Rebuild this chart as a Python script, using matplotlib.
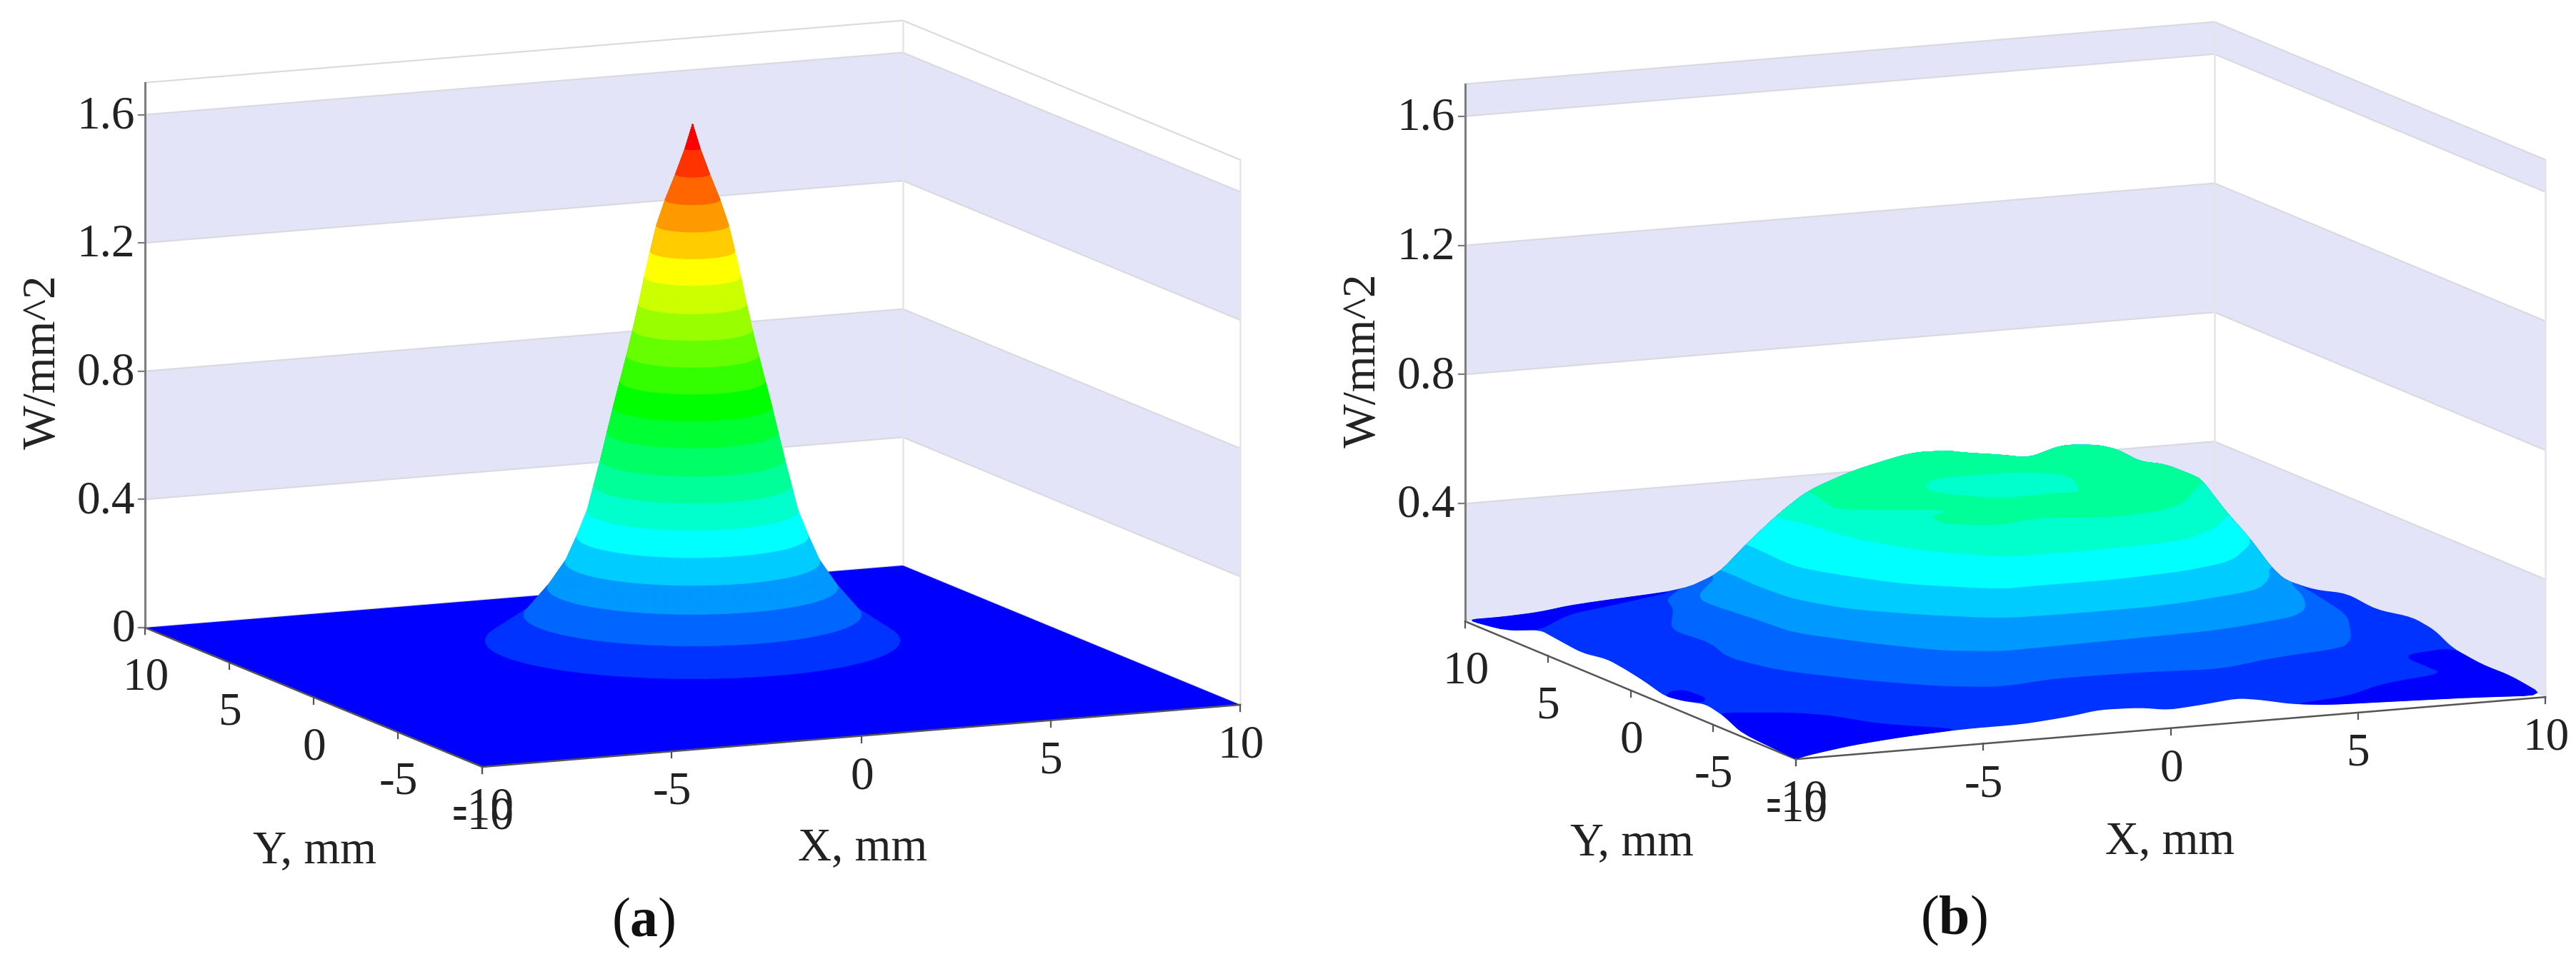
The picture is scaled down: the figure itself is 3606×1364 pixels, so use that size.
import numpy as np
import matplotlib
matplotlib.use("Agg")
import matplotlib.pyplot as plt
from matplotlib.collections import PolyCollection
from matplotlib.patches import Polygon

plt.rcParams['font.family'] = ['Liberation Serif', 'DejaVu Serif']
plt.rcParams['mathtext.fontset'] = 'custom'
plt.rcParams['mathtext.rm'] = 'Liberation Serif'
plt.rcParams['mathtext.bf'] = 'Liberation Serif:bold'

# axis ticks
x_ticks = [-10, -5, 0, 5, 10]
y_ticks = [-10, -5, 0, 5, 10]
z_ticks_a = [0, 0.4, 0.8, 1.2, 1.6]
z_labels_a = ['0', '0.4', '0.8', '1.2', '1.6']
z_ticks_b = [0.4, 0.8, 1.2, 1.6]
z_labels_b = ['0.4', '0.8', '1.2', '1.6']
z_top = 1.7
z_floor_a = 0.0
z_floor_b = 0.035

# shaded wall stripes
bands_a = [(0.4, 0.8), (1.2, 1.6)]
bands_b = [(0.035, 0.4), (0.8, 1.2), (1.6, 1.7)]

band_colors = ['#0033FF', '#0066FF', '#0099FF', '#00CCFF', '#00FFFF', '#00FFCC', '#00FF99',
               '#00FF66', '#00FF33', '#00FF00', '#33FF00', '#66FF00', '#99FF00', '#CCFF00',
               '#FFFF00', '#FFCC00', '#FF9900', '#FF6600', '#FF3300', '#FF0000']

# panel a: contour levels and their radius, mm
levels_a = [0.08, 0.16, 0.245, 0.325, 0.405, 0.485, 0.565, 0.645, 0.73, 0.81, 0.89, 0.97,
            1.05, 1.13, 1.215, 1.295, 1.375, 1.455, 1.535, 1.615, 1.69]
radius_a = [5.0, 4.07, 3.5, 3.07, 2.79, 2.54, 2.38, 2.22, 2.06, 1.91, 1.75, 1.59,
            1.44, 1.30, 1.16, 1.02, 0.87, 0.66, 0.41, 0.18, 0.0]

# panel b: surface edge and skyline
edge_x = [-10, -10, -10, -10, -10, -10, -10, -10, -10, -10, -10, -10, -10, -10, -10,
          -9.6, -8.51, -7.16, -5.5, -3.94, -2.68, -1.9, -0.83, -0.05, 0.81, 1.78, 2.37, 3.25, 4.22, 6.17, 8.02, 10,
          10, 10, 10, 10, 10, 10, 10, 10, 10,
          8.03, 7.36, 6.13, 5.97, 4.97, 4.93, 4.53, 3.97, 3.76, 2.98, 1.89, 1.45, 0.75, 0.45, -0.47, -2.37, -3.4, -3.84, -4.5, -4.63,
          -4.17, -7.08, -8.06, -9.03]
edge_y = [10, 7.58, 5.46, 4.6, 2.96, 1.4, 0.32, -0.8, -2.1, -3.22, -4.56, -5.64, -6.76, -9.83, -10,
          -10, -10, -10, -10, -10, -10, -10, -10, -10, -10, -10, -10, -10, -10, -10, -10, -10,
          -7.93, -6.16, -4.38, -3.3, -1.96, 0.24, 2.0, 3.95, 5.72,
          2.13, 1.9, 0.47, 1.66, 0.04, 1.5, 2.1, 2.25, 2.97, 3.32, 2.87, 3.5, 4.12, 4.56, 4.67, 3.86, 4.23, 4.95, 5.45, 6.85,
          10, 10, 10, 10]
edge_z = [0.04, 0.058, 0.105, 0.099, 0.088, 0.101, 0.093, 0.081, 0.061, 0.07, 0.089, 0.075, 0.045, 0.035, 0.035,
          0.045, 0.063, 0.076, 0.085, 0.085, 0.097, 0.11, 0.106, 0.092, 0.099, 0.11, 0.1, 0.078, 0.066, 0.059, 0.052, 0.04,
          0.057, 0.055, 0.068, 0.1, 0.111, 0.088, 0.1, 0.07, 0.062,
          0.2, 0.3, 0.42, 0.5, 0.56, 0.56, 0.56, 0.6, 0.6, 0.6, 0.58, 0.58, 0.58, 0.58, 0.58, 0.56, 0.5, 0.42, 0.32, 0.2,
          0.078, 0.06, 0.045, 0.04]

# panel b: front part of each contour
level_016_x = [-5.4, -6.49, -6.86, -8.04, -7.84, -8.24, -7.78, -6.37, -5.06, -3.74, -2.05, 0.33, 2.11, 3.92, 6.0, 6.71, 7.84, 8.22, 8.42]
level_016_y = [7.17, 5.8, 4.51, 2.04, 0.08, -1.91, -3.98, -6.07, -7.49, -8.19, -7.71, -7.85, -8.23, -7.39, -6.88, -5.75, -2.94, -0.11, 1.66]
level_024_x = [-5.41, -6.88, -7.21, -6.95, -6.83, -5.73, -4.53, -3.21, -2.19, 0.33, 2.83, 5.13, 5.83, 6.44, 6.99]
level_024_y = [5.08, 2.95, 1.95, -0.75, -2.68, -4.61, -6.3, -7.0, -6.94, -6.78, -6.61, -5.78, -4.96, -3.48, -1.23]
level_032_x = [-6.46, -6.53, -6.41, -5.72, -4.4, -2.83, -0.92, 1.52, 4.36, 5.25, 5.93]
level_032_y = [2.34, 0.19, -1.73, -3.49, -4.91, -6.15, -6.28, -6.24, -5.34, -4.08, -2.53]
level_040_x = [-5.9, -6.04, -5.61, -4.55, -2.65, -1.63, 0.3, 2.39, 3.96, 5.22, 5.64]
level_040_y = [2.27, -0.89, -2.11, -4.14, -5.73, -5.67, -5.71, -5.4, -4.67, -2.95, -2.0]
level_048_x = [-5.21, -4.82, -4.66, -3.73, -2.31, -1.37, 0.6, 2.64, 4.06, 4.98]
level_048_y = [2.04, 0.73, -1.11, -3.39, -4.97, -5.08, -5.03, -4.81, -3.59, -2.14]
level_056_x = [-4.43, -4.67, -4.81, -2.53, -2.44, -3.08, -3.21, -2.01, -0.76, 0.86, 2.49, 3.29, 4.79]
level_056_y = [1.89, 0.23, -0.74, -1.76, -2.0, -2.45, -3.53, -4.28, -3.7, -4.43, -4.03, -3.35, -1.02]

contour_z_b = [0.16, 0.24, 0.32, 0.40, 0.48, 0.56]
contour_x_b = [level_016_x, level_024_x, level_032_x, level_040_x, level_048_x, level_056_x]
contour_y_b = [level_016_y, level_024_y, level_032_y, level_040_y, level_048_y, level_056_y]
contour_col_b = ['#0066FF', '#0099FF', '#00CCFF', '#00FFFF', '#00FFCC', '#00FF99']

# dip on top of the plateau
dip_x = [-0.7, -1.33, -1.31, -0.21, 1.12, 1.93, 2.57, 1.79, 0.22]
dip_y = [2.8, 1.94, 1.01, -0.22, -0.09, -0.25, 1.85, 2.72, 2.91]
dip_z = 0.54

# low patches, below the first contour
low1_x = [-10, -10, -10, -8.13, -6.66, -4.17, -7.08, -8.06, -9.03]
low1_y = [10, 7.58, 5.46, 8.02, 8.7, 10, 10, 10, 10]
low1_z = [0.04, 0.058, 0.105, 0.08, 0.08, 0.078, 0.06, 0.045, 0.04]
low2_x = [-9.77, -9.38, -9.31, -9.65, -10, -10]
low2_y = [-1.88, -1.84, -3.01, -3.59, -3.22, -2.1]
low2_z = [0.07, 0.07, 0.07, 0.07, 0.07, 0.061]
low3_x = [-9.95, -8.33, -7.68, -7.0, -5.5, -7.16, -8.51, -9.6, -10, -10, -10, -10]
low3_y = [-5.36, -6.09, -6.79, -8.34, -10, -10, -10, -10, -10, -9.83, -6.76, -5.64]
low3_z = [0.08, 0.08, 0.08, 0.08, 0.085, 0.076, 0.063, 0.045, 0.035, 0.035, 0.045, 0.075]
low4_x = [3.25, 4.87, 6.37, 8.2, 8.22, 8.21, 8.5, 10, 10, 10, 10, 8.02, 6.17, 4.22]
low4_y = [-10, -9.65, -8.47, -7.85, -6.72, -5.77, -5.18, -4.38, -6.16, -7.93, -10, -10, -10, -10]
low4_z = [0.078, 0.08, 0.08, 0.08, 0.08, 0.08, 0.08, 0.068, 0.055, 0.057, 0.04, 0.052, 0.059, 0.066]

# view of each panel: figure pixel position of (-10, -10, 0) and pixels per unit
view_a = dict(o=(675, 1074), xv=(53.05, -4.35), yv=(-23.6, -9.75), zs=449)
view_b = dict(o=(2514, 1079), xv=(52.45, -4.35), yv=(-23.15, -9.65), zs=452)

WALL = '#E3E4F7'
LINE = '#D9D9E0'
AXIS = '#7D7D7D'
FS = 47


def project(view, x, y, z):
    x = np.asarray(x, dtype=float) + 10
    y = np.asarray(y, dtype=float) + 10
    z = np.asarray(z, dtype=float)
    sx = view['o'][0] + x * view['xv'][0] + y * view['yv'][0]
    sy = view['o'][1] + x * view['xv'][1] + y * view['yv'][1] - z * view['zs']
    return np.column_stack([sx, sy]) if sx.ndim else np.array([sx, sy])


def soften(pts, closed=True, cut=0.18, rounds=2):
    # corner cutting, only rounds off the drawn outline
    pts = np.asarray(pts)
    for _ in range(rounds):
        b = np.roll(pts, -1, axis=0)
        pts = np.column_stack([(1 - cut) * pts + cut * b, cut * pts + (1 - cut) * b]).reshape(-1, 2)
    return pts


def wall_poly(view, z0, z1):
    xs = [-10, 10, 10, 10, 10, -10]
    ys = [10, 10, -10, -10, 10, 10]
    zs = [z0, z0, z0, z1, z1, z1]
    return project(view, xs, ys, zs)


def draw_frame(ax, view, bands, zfloor, zticks, zlabels, ylab_xy, xlab_xy, zlab_xy, letter, letter_xy):
    # walls
    for z0, z1 in bands:
        ax.add_patch(Polygon(wall_poly(view, z0, z1), fc=WALL, ec='none', zorder=1))
    for z in list(zticks) + [z_top]:
        p = project(view, [-10, 10, 10], [10, 10, -10], [z, z, z])
        ax.plot(p[:, 0], p[:, 1], color=LINE, lw=1.5, zorder=1.5)
    p = project(view, [10, 10], [10, 10], [zfloor, z_top])
    ax.plot(p[:, 0], p[:, 1], color='#E4E4EA', lw=1.8, zorder=1.5)
    p = project(view, [10, 10], [-10, -10], [zfloor, z_top])
    ax.plot(p[:, 0], p[:, 1], color='#E4E4EA', lw=1.8, zorder=1.5)

    # axes
    p = project(view, [-10, -10], [10, 10], [zfloor, z_top])
    ax.plot(p[:, 0], p[:, 1], color=AXIS, lw=2.2, zorder=8)
    p = project(view, [-10, -10, 10], [10, -10, -10], [zfloor, zfloor, zfloor])
    ax.plot(p[:, 0], p[:, 1], color='#555555', lw=1.8, zorder=3)

    for z, lab in zip(zticks, zlabels):
        p = project(view, -10, 10, z)
        ax.plot([p[0] - 9, p[0]], [p[1], p[1]], color=AXIS, lw=1.6, zorder=8)
        ax.text(p[0] - 14, p[1] + 3, lab, ha='right', va='center', fontsize=FS, color='#222222')
    for t in x_ticks:
        p = project(view, t, -10, zfloor)
        ax.plot([p[0], p[0]], [p[1], p[1] + 9], color='#555555', lw=1.6, zorder=8)
        ax.text(p[0] + 1, p[1] + 58, str(t), ha='center', va='center', fontsize=FS, color='#222222')
    for t in y_ticks:
        p = project(view, -10, t, zfloor)
        ax.plot([p[0], p[0]], [p[1], p[1] + 9], color='#555555', lw=1.6, zorder=8)
        ax.text(p[0] + 1, p[1] + 71, str(t), ha='center', va='center', fontsize=FS, color='#222222')

    ax.text(*ylab_xy, 'Y, mm', ha='center', va='center', fontsize=FS, color='#222222')
    ax.text(*xlab_xy, 'X, mm', ha='center', va='center', fontsize=FS, color='#222222')
    ax.text(*zlab_xy, 'W/mm^2', ha='center', va='center', rotation=90, fontsize=FS, color='#222222')
    ax.text(*letter_xy, '($\\mathbf{%s}$)' % letter, ha='center', va='center', fontsize=56, color='#111111')


fig = plt.figure(figsize=(36.06, 13.64), dpi=100)
ax = fig.add_axes([0, 0, 1, 1])
ax.set_xlim(0, 3606)
ax.set_ylim(1364, 0)
ax.axis('off')

# panel a
draw_frame(ax, view_a, bands_a, z_floor_a, z_ticks_a, z_labels_a,
           (440, 1192), (1208, 1188), (61, 507), 'a', (901, 1292))
ax.add_patch(Polygon(project(view_a, [-10, 10, 10, -10], [-10, -10, 10, 10], [0, 0, 0, 0]),
                     fc='#0000FF', ec='none', zorder=2))
ang = np.linspace(0, 2 * np.pi, 73)
for k in range(len(levels_a) - 1):
    low = project(view_a, radius_a[k] * np.cos(ang), radius_a[k] * np.sin(ang), np.full(ang.size, levels_a[k]))
    up = project(view_a, radius_a[k + 1] * np.cos(ang), radius_a[k + 1] * np.sin(ang), np.full(ang.size, levels_a[k + 1]))
    quads = [[low[i], low[i + 1], up[i + 1], up[i]] for i in range(ang.size - 1)]
    ax.add_collection(PolyCollection(quads, facecolors=band_colors[k], edgecolors=band_colors[k], linewidths=0.6, zorder=4))

# panel b
draw_frame(ax, view_b, bands_b, z_floor_b, z_ticks_b, z_labels_b,
           (2284, 1181), (3038, 1179), (1909, 505), 'b', (2735, 1289))
outline = Polygon(soften(project(view_b, edge_x, edge_y, edge_z)), fc='#0033FF', ec='none', zorder=4)
ax.add_patch(outline)
for lx, ly, lz in [(low1_x, low1_y, low1_z), (low2_x, low2_y, low2_z), (low3_x, low3_y, low3_z), (low4_x, low4_y, low4_z)]:
    pat = Polygon(soften(project(view_b, lx, ly, lz)), fc='#0000FF', ec='none', zorder=4.1)
    ax.add_patch(pat)
    pat.set_clip_path(outline)

for i in range(len(contour_z_b)):
    cx = list(contour_x_b[i])
    cy = list(contour_y_b[i])
    cz = [contour_z_b[i]] * len(cx)
    # carry the contour ends up past the skyline, the outline clips the rest
    zup = contour_z_b[i] + 0.1
    cx += [cx[-1] + 2, cx[-1] + 2, cx[0] - 2, cx[0] - 2]
    cy += [cy[-1], cy[-1], cy[0], cy[0]]
    cz += [zup, 1.2, 1.2, zup]
    pat = Polygon(soften(project(view_b, cx, cy, cz)), fc=contour_col_b[i], ec='none', zorder=4.2 + i * 0.1)
    ax.add_patch(pat)
    pat.set_clip_path(outline)

ax.add_patch(Polygon(soften(project(view_b, dip_x, dip_y, [dip_z] * len(dip_x))), fc='#00FFCC', ec='none', zorder=5))

fig.savefig('out.png', dpi=100, facecolor='white')
